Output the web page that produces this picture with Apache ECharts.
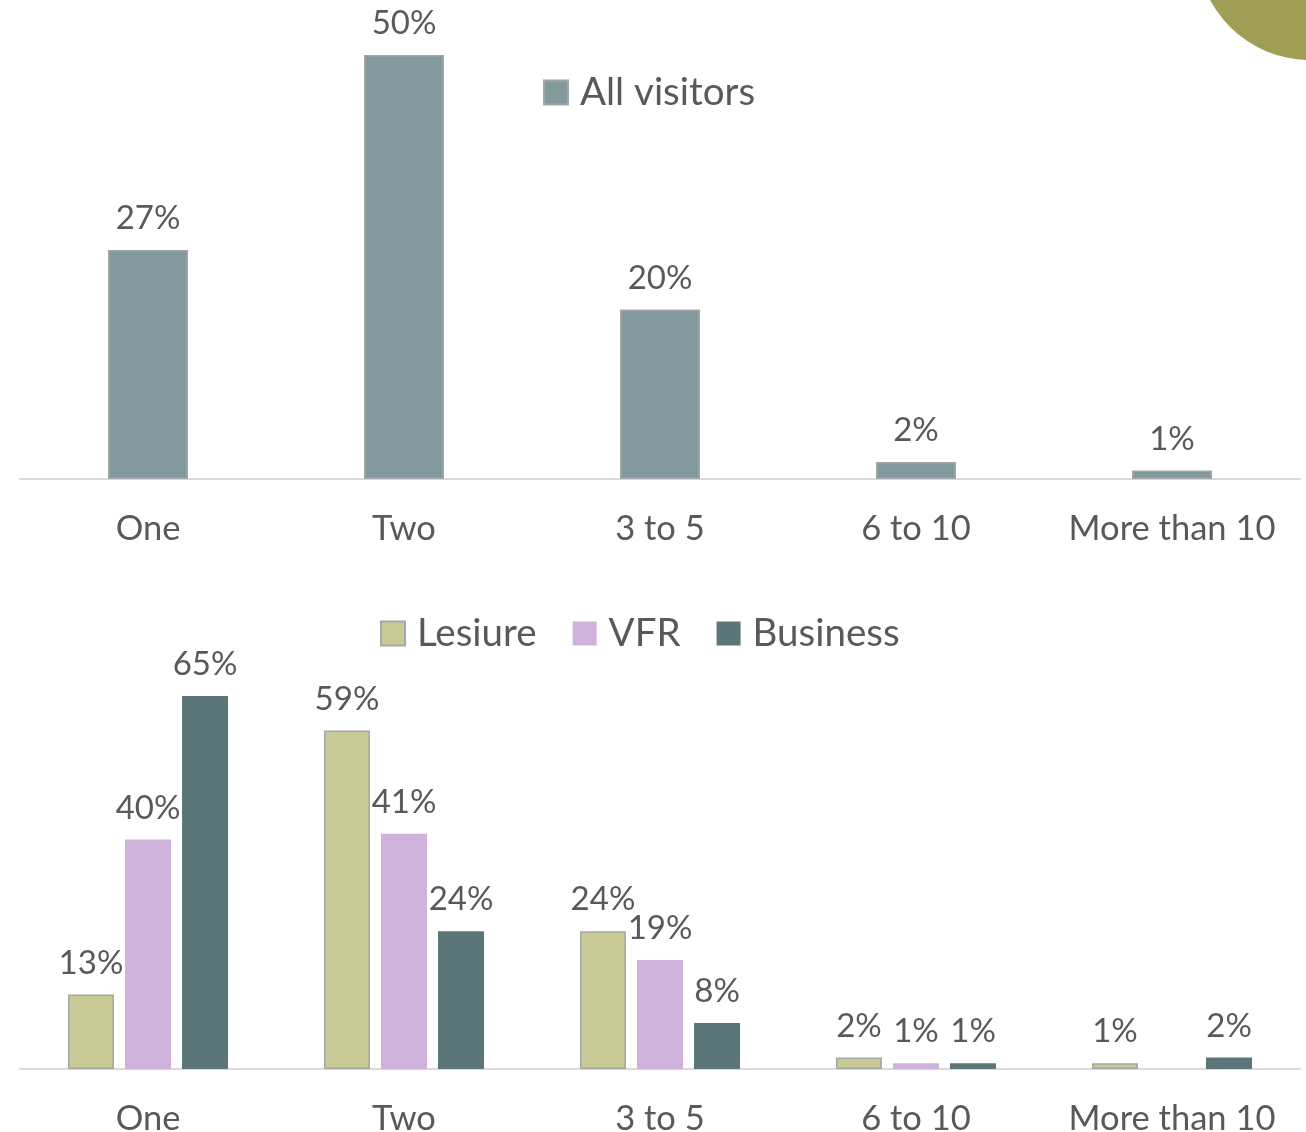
<!DOCTYPE html>
<html><head><meta charset="utf-8">
<script src="https://cdn.jsdelivr.net/npm/echarts@6/dist/echarts.min.js"></script>
<style>html,body{margin:0;padding:0;background:#fff}#c{width:1306px;height:1132px}</style>
</head><body><div id="c"></div>
<script>
const categories = ['One', 'Two', '3 to 5', '6 to 10', 'More than 10'];
const allVisitors = [27, 50, 20, 2, 1];
const leisure = [13, 59, 24, 2, 1];
const vfr = [40, 41, 19, 1, null];
const business = [65, 24, 8, 1, 2];

const FONT = 'Lato';
const TXT = '#595959';
const chart = echarts.init(document.getElementById('c'));
const lbl = {show: true, position: 'top', distance: 15, color: TXT, fontFamily: FONT, fontSize: 33,
  formatter: p => p.value == null ? '' : p.value + '%'};
const xAx = (gi) => ({type: 'category', gridIndex: gi, data: categories,
  axisLine: {lineStyle: {color: '#D9D9D9', width: 2}}, axisTick: {show: false},
  axisLabel: {color: TXT, fontFamily: FONT, fontSize: 34.5, margin: 32, interval: 0}});
const legText = {color: TXT, fontFamily: FONT, fontSize: 38.5, padding: [0, 0, 0, 7]};
chart.setOption({
  animation: false,
  graphic: [{type: 'circle', shape: {cx: 1310, cy: -53, r: 113}, style: {fill: '#A09E55'}}],
  legend: [
    {data: ['All visitors'], left: 538, top: 68, icon: 'rect', itemWidth: 24, itemHeight: 24, itemGap: 20,
     textStyle: legText},
    {data: ['Lesiure', 'VFR', 'Business'], left: 375, top: 609, icon: 'rect', itemWidth: 24, itemHeight: 24, itemGap: 36,
     textStyle: legText}
  ],
  grid: [
    {left: 20, right: 6, top: 55, bottom: 653, containLabel: false, outerBoundsMode: 'none'},
    {left: 20, right: 6, top: 696, bottom: 63, containLabel: false, outerBoundsMode: 'none'}
  ],
  xAxis: [xAx(0), xAx(1)],
  yAxis: [
    {type: 'value', gridIndex: 0, min: 0, max: 50, show: false, splitLine: {show: false}},
    {type: 'value', gridIndex: 1, min: 0, max: 65, show: false, splitLine: {show: false}}
  ],
  series: [
    {name: 'All visitors', type: 'bar', xAxisIndex: 0, yAxisIndex: 0, data: allVisitors, barWidth: 80,
     itemStyle: {color: '#829A9E', borderColor: '#A5A5A5', borderWidth: 1.5}, label: lbl},
    {name: 'Lesiure', type: 'bar', xAxisIndex: 1, yAxisIndex: 1, data: leisure, barWidth: 46, barGap: '24%',
     itemStyle: {color: '#C9C995', borderColor: '#A5A8A8', borderWidth: 1.5}, label: lbl},
    {name: 'VFR', type: 'bar', xAxisIndex: 1, yAxisIndex: 1, data: vfr, barWidth: 46, barGap: '24%',
     itemStyle: {color: '#D0B3DD'}, label: lbl},
    {name: 'Business', type: 'bar', xAxisIndex: 1, yAxisIndex: 1, data: business, barWidth: 46, barGap: '24%',
     itemStyle: {color: '#5B7579'}, label: lbl}
  ]
});
</script></body></html>
